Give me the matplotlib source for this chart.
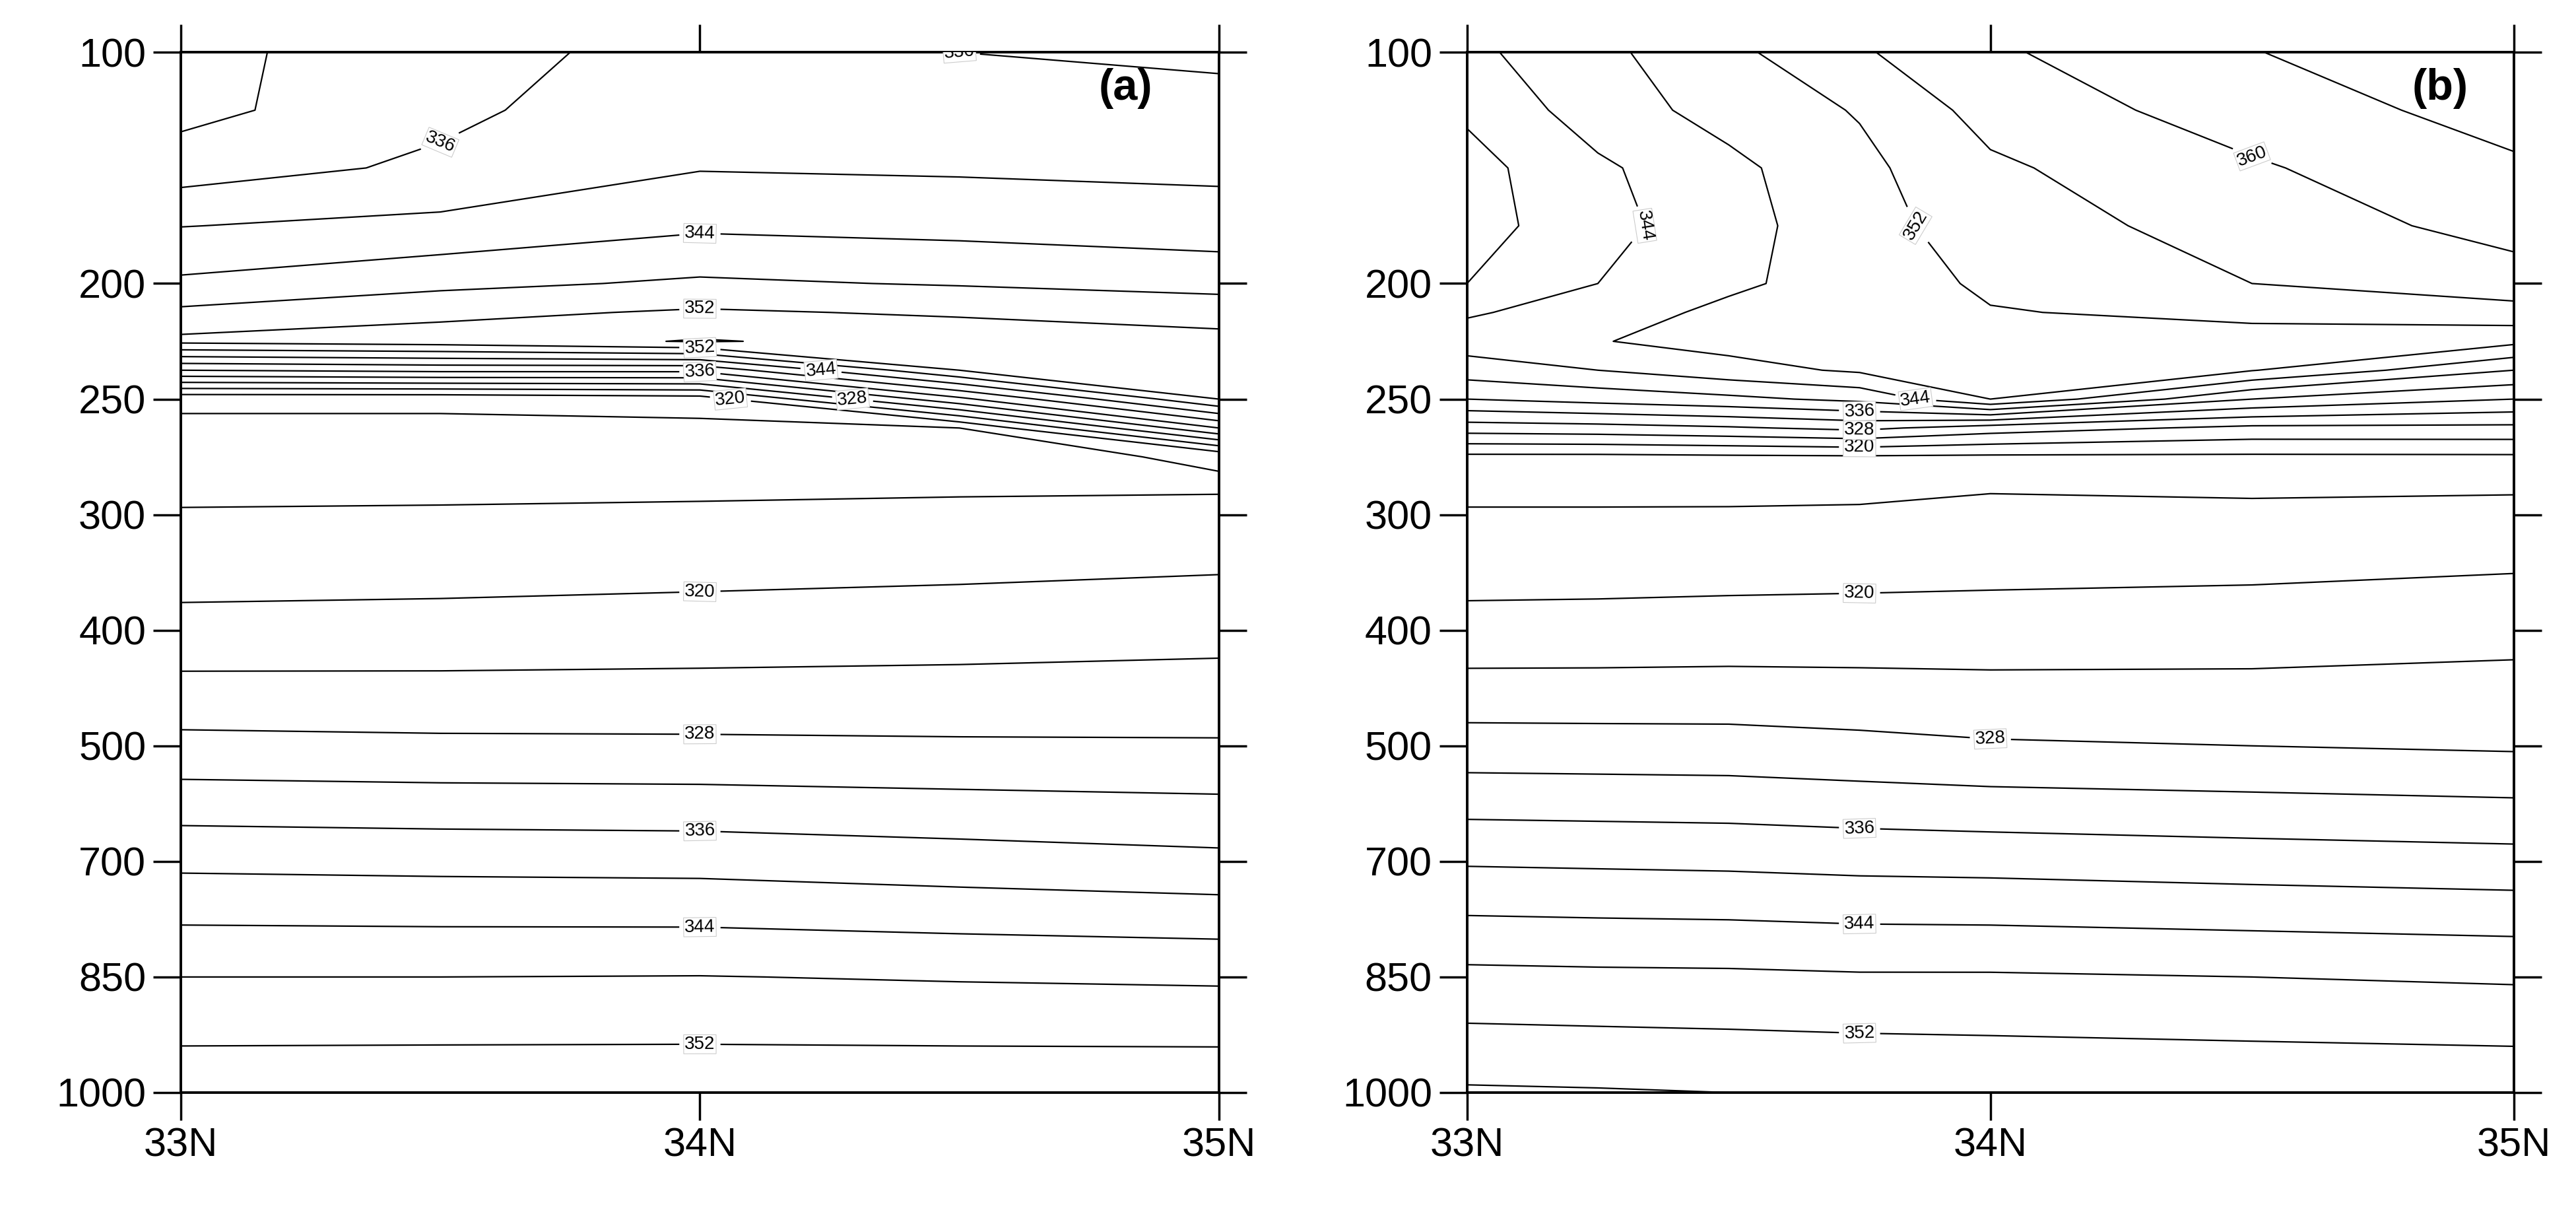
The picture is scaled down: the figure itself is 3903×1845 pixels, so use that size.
import numpy as np
import matplotlib
matplotlib.use("Agg")
import matplotlib.pyplot as plt

plt.rcParams['font.family'] = ['Liberation Sans', 'DejaVu Sans']

# vertical grid (pressure-level index; 0=100 hPa ... 9=1000 hPa)
lev_idx = [0, 0.5, 1, 1.5, 2, 2.25, 2.5, 2.75, 3, 3.25, 3.5, 3.75, 4, 5, 6, 7, 8, 9]
ytick_idx = [0, 2, 3, 4, 5, 6, 7, 8, 9]
ytick_labels = ["100", "200", "250", "300", "400", "500", "700", "850", "1000"]
xtick_vals = [33, 34, 35]
xtick_labels = ["33N", "34N", "35N"]

# panel (a): columns per latitude
lat_a = [33, 33.5, 34, 34.5, 35]
a_33 = [331, 330.8, 334, 339.9, 344.7, 348.8, 353, 336, 317, 315, 314.8, 315.4, 316.2, 321.2, 329.1, 339.1, 348, 354.7]
a_335 = [334, 335, 336.8, 341, 347, 351, 354, 337, 317, 315, 314.8, 315.4, 316.3, 321.4, 328.8, 338.8, 348, 354.8]
a_34 = [338, 339, 339.8, 343.3, 348.6, 352.5, 356.3, 337, 318, 315, 314.8, 315.3, 316.6, 321.7, 328.7, 338.6, 348.1, 354.8]
a_345 = [336, 338.2, 339.5, 342.7, 347.7, 351.5, 354.5, 352, 335, 316, 314.8, 315.5, 316.8, 322.1, 328.5, 337.8, 347.7, 354.9]
a_35 = [335.3, 337.2, 339.2, 341.7, 346.8, 350, 353.5, 354.5, 352, 336, 316.5, 315.5, 317.2, 322.6, 328.4, 337, 347.4, 355]

# panel (b)
lat_b = [33, 33.25, 33.5, 33.75, 34, 34.5, 35]
b_33 = [343, 340.7, 338.5, 338.3, 340, 343.5, 346, 342, 336, 326, 315, 314.6, 316.5, 321.2, 329.7, 339.6, 349, 356.5]
b_3325 = [347, 346, 343.3, 342.6, 344, 346, 347.8, 344, 337.5, 326.5, 315, 314.6, 316.5, 321.3, 329.6, 339.4, 348.8, 356.3]
b_335 = [351, 349.5, 347, 346.5, 347.2, 349, 349.5, 346.5, 339, 327.5, 315.3, 314.7, 316.5, 321.5, 329.5, 339.2, 348.7, 356]
b_3375 = [355.5, 352.3, 351, 350.5, 350, 349.5, 349, 348.6, 341, 329, 315.5, 314.9, 316.6, 321.6, 329, 338.8, 348.4, 355.8]
b_34 = [359.4, 357.5, 355.3, 354, 352.6, 351.8, 350.5, 349.5, 348, 326, 315.3, 315.7, 316.8, 321.7, 328.4, 338.6, 348.4, 355.5]
b_345 = [363.8, 362, 359.5, 357.8, 356, 352.8, 350.7, 348.2, 336, 323, 315.3, 315.3, 316.9, 322, 328, 338, 348, 355.2]
b_35 = [368, 365.5, 363.4, 361.4, 358.3, 354.5, 349, 340, 332, 323, 315.4, 315.5, 317.1, 322.8, 327.5, 337.5, 347.5, 355]

levels = np.arange(312, 372, 4)

W, H = 3903, 1845
fig = plt.figure(figsize=(W / 100, H / 100), dpi=100)

def panel(rect, lats, cols, tag, tagx):
    ax = fig.add_axes(rect)
    Z = np.array(cols).T
    X, Y = np.meshgrid(lats, lev_idx)
    cs = ax.contour(X, Y, Z, levels=levels, colors='black', linewidths=1.6)
    lab = [l for l in levels if l % 8 == 0]
    txts = ax.clabel(cs, levels=lab, inline=True, fontsize=20, fmt='%d', inline_spacing=8)
    for t in txts:
        t.set_bbox(dict(facecolor='white', edgecolor='#cccccc', pad=1, linewidth=0.8))
    ax.set_xlim(33, 35)
    ax.set_ylim(9, 0)
    ax.set_yticks(ytick_idx)
    ax.set_yticklabels(ytick_labels)
    ax.set_xticks(xtick_vals)
    ax.set_xticklabels(xtick_labels)
    ax.tick_params(direction='out', length=30, width=2.5, labelsize=44, pad=8,
                   top=True, right=True, left=True, bottom=True)
    for s in ax.spines.values():
        s.set_linewidth(2.8)
    ax.text(tagx, 0.985, tag, transform=ax.transAxes, ha='center', va='top',
            fontsize=48, fontweight='bold')
    return ax

panel([0.0702, 0.103, 0.403, 0.854], lat_a, [a_33, a_335, a_34, a_345, a_35], "(a)", 0.91)
panel([0.5695, 0.103, 0.4063, 0.854], lat_b, [b_33, b_3325, b_335, b_3375, b_34, b_345, b_35], "(b)", 0.93)

fig.savefig("out.png", dpi=100, facecolor='white')
